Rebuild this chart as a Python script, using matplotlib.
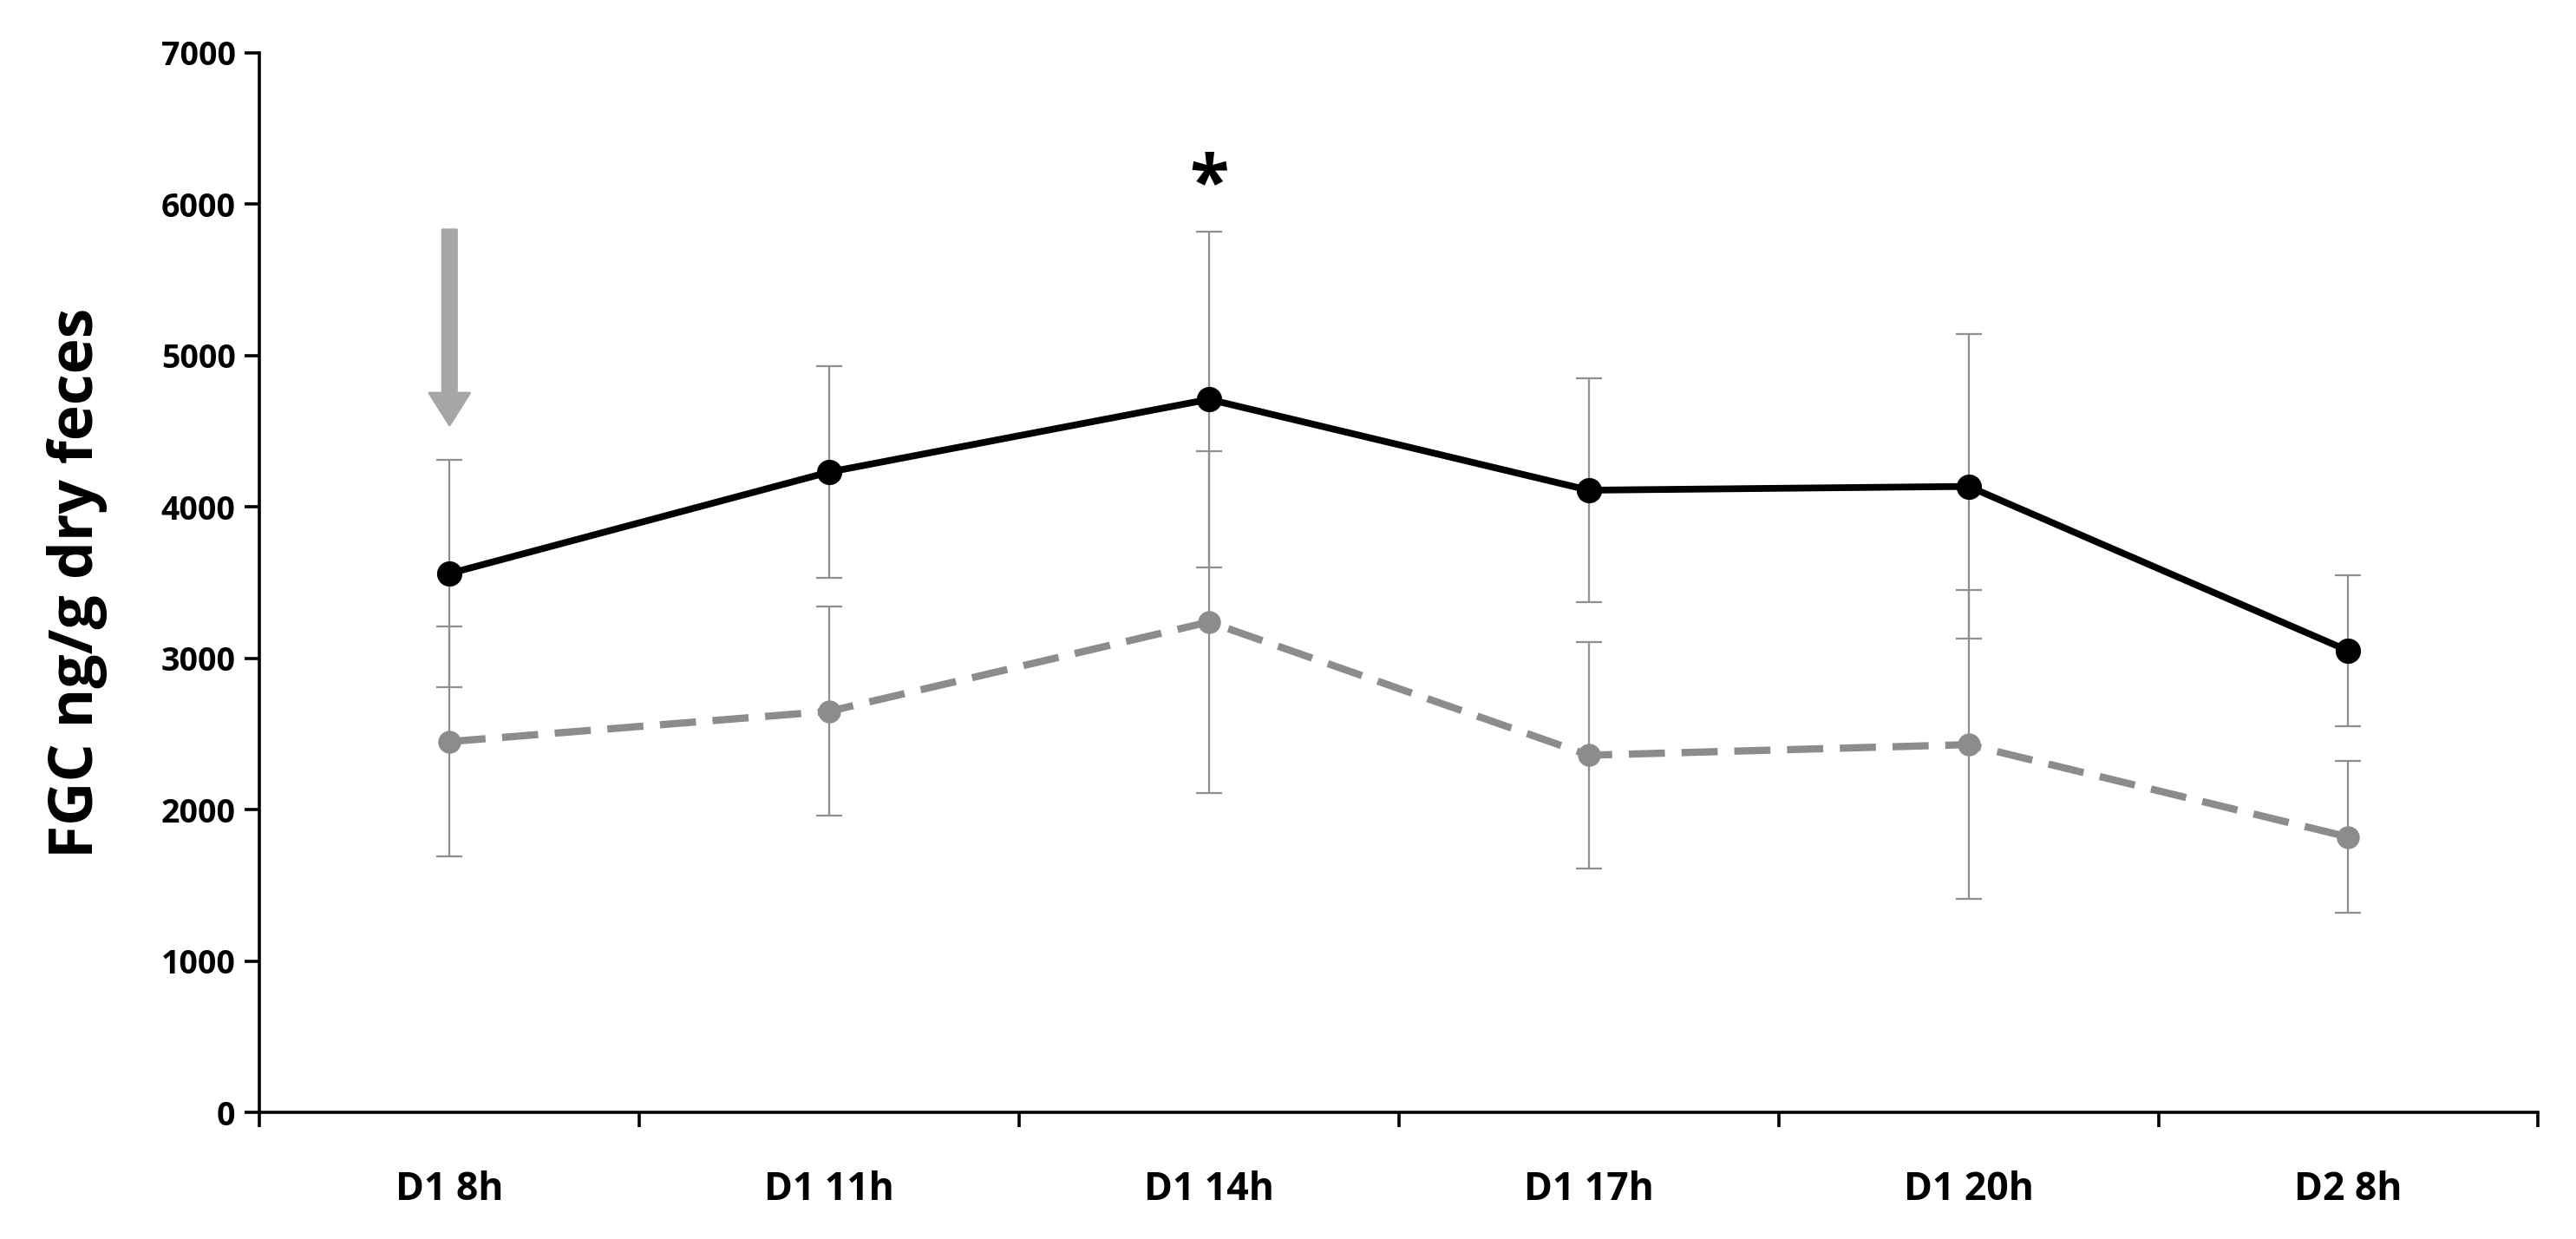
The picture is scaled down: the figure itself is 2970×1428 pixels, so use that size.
#!/usr/bin/env python3
"""FGC time course: two groups with error bars."""
import matplotlib

matplotlib.use("Agg")
import matplotlib.pyplot as plt
import numpy as np

plt.rcParams["font.family"] = ["Open Sans", "DejaVu Sans"]

categories = ["D1 8h", "D1 11h", "D1 14h", "D1 17h", "D1 20h", "D2 8h"]
black_mean = [3560, 4230, 4710, 4110, 4135, 3050]
black_err = [750, 700, 1110, 740, 1005, 500]
gray_mean = [2450, 2650, 3240, 2360, 2430, 1820]
gray_err = [760, 690, 1130, 750, 1020, 500]

arrow_top = 5830
arrow_tip = 4540
star_y = 6110
star_idx = 2


def main() -> None:
    fig = plt.figure(figsize=(14.85, 7.14), dpi=200)
    ax = fig.add_axes([0.1008, 0.102, 0.8845, 0.8556])
    x = np.arange(len(categories))

    ax.errorbar(x, gray_mean, yerr=gray_err, fmt="none", ecolor="#8f8f8f",
                elinewidth=0.8, capsize=5.5, capthick=0.8, zorder=2)
    ax.errorbar(x, black_mean, yerr=black_err, fmt="none", ecolor="#8f8f8f",
                elinewidth=0.8, capsize=5.5, capthick=0.8, zorder=2)
    ax.plot(x, gray_mean, color="#8c8c8c", linewidth=3.0, linestyle=(0, (5, 2.3)),
            marker="o", markersize=8.5, zorder=3)
    ax.plot(x, black_mean, color="black", linewidth=2.8, marker="o",
            markersize=9.5, zorder=4)

    ax.annotate("", xy=(x[0], arrow_tip), xytext=(x[0], arrow_top),
                arrowprops=dict(arrowstyle="simple,head_width=1.2,head_length=0.95,tail_width=0.42",
                                color="#a6a6a6", shrinkA=0, shrinkB=0, mutation_scale=14))
    ax.text(x[star_idx], star_y, "*", ha="center", va="center", fontsize=30,
            fontweight="bold")

    ax.set_xlim(-0.5, len(categories) - 0.5)
    ax.set_ylim(0, 7000)
    ax.set_yticks(np.arange(0, 7001, 1000))
    ax.set_xticks(np.arange(-0.5, len(categories)), labels=[""] * (len(categories) + 1))
    ax.set_xticks(x, labels=categories, minor=True)
    ax.tick_params(axis="x", which="minor", length=0, pad=24)
    ax.tick_params(axis="both", which="major", length=6, width=1.3, direction="out")
    for label in ax.get_xticklabels(minor=True):
        label.set_fontsize(16)
        label.set_fontweight("bold")
    for label in ax.get_yticklabels():
        label.set_fontsize(13.5)
        label.set_fontweight("bold")
    ax.tick_params(axis="y", pad=4)

    for side in ("top", "right"):
        ax.spines[side].set_visible(False)
    for side in ("left", "bottom"):
        ax.spines[side].set_linewidth(1.3)

    ax.set_ylabel("FGC ng/g dry feces", fontsize=25, fontweight="bold", labelpad=22)

    fig.savefig("out.png", dpi=200)
    plt.close(fig)


if __name__ == "__main__":
    main()
